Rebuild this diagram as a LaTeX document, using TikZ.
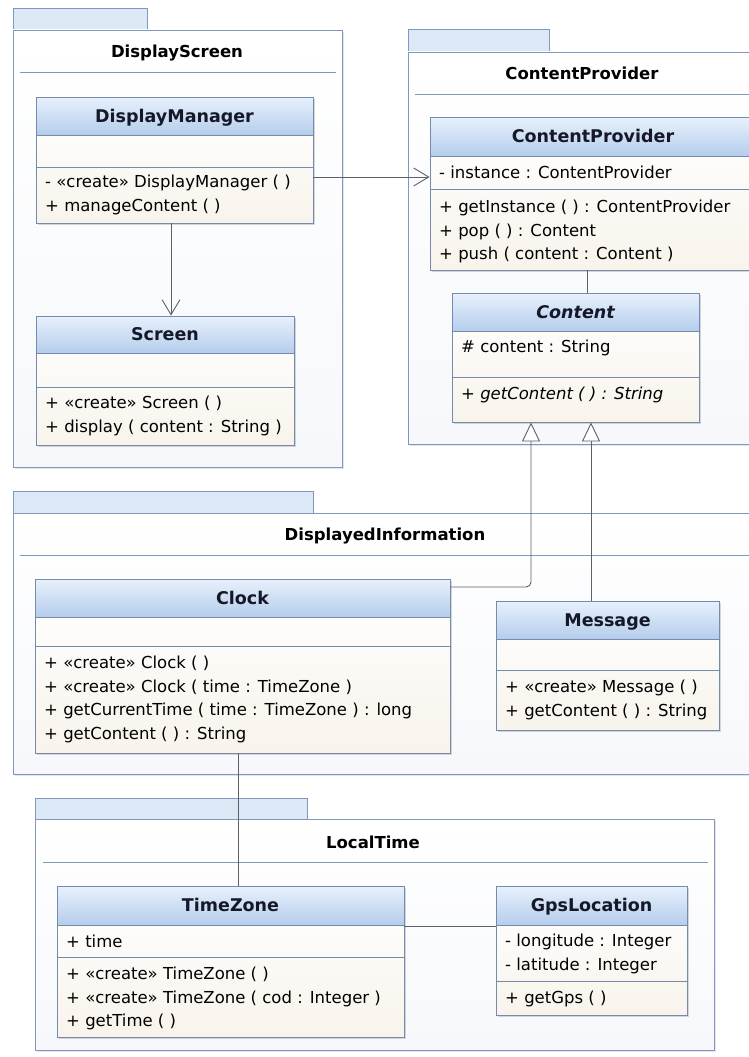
\documentclass[tikz,border=0pt]{standalone}
\usepackage{fontspec}
\setmainfont{DejaVu Sans}
\usepackage{tikz}
\usetikzlibrary{arrows.meta, fit, shadows}

\definecolor{pkgline}{RGB}{126,153,190}
\definecolor{clsline}{RGB}{118,138,172}
\definecolor{tabblue}{RGB}{221,232,246}
\definecolor{headtop}{RGB}{232,241,252}
\definecolor{headbottom}{RGB}{180,205,236}
\definecolor{clsbottom}{RGB}{248,244,236}
\definecolor{pkgbottom}{RGB}{246,248,251}
\definecolor{conn}{RGB}{95,95,105}
\definecolor{titletext}{RGB}{20,24,40}

% class box: name, left, top, right, bottom, header bottom, title
\newcommand{\umlclass}[7]{%
  \node[classbody, fit={(#2,#3) (#4,#5)}] (#1) {};
  \draw[classhead] (#2,#3) rectangle (#4,#6);
  \node[classtitle] (#1-title) at ({(#2+#4)/2},{(#3+#6)/2+6}) {#7};
}

\begin{document}
\begin{tikzpicture}[
    x=1pt, y=-1pt,
    pkgbody/.style={draw=pkgline, line width=0.9pt, top color=white, bottom color=pkgbottom,
      inner sep=0, drop shadow={shadow xshift=2pt, shadow yshift=-2pt, opacity=.2}},
    pkgtab/.style={draw=pkgline, line width=0.9pt, fill=tabblue},
    pkgtitle/.style={font=\bfseries\fontsize{16.5}{20}\selectfont, anchor=base, inner sep=0},
    pkgsep/.style={draw=pkgline, line width=0.9pt},
    classbody/.style={draw=clsline, line width=0.9pt, top color=white, bottom color=clsbottom,
      inner sep=0, drop shadow={shadow xshift=2pt, shadow yshift=-2pt, opacity=.3}},
    classhead/.style={draw=clsline, line width=0.9pt, top color=headtop, bottom color=headbottom},
    classtitle/.style={font=\bfseries\fontsize{17.5}{20}\selectfont, anchor=base, inner sep=0, text=titletext},
    clssep/.style={draw=clsline, line width=0.9pt},
    member/.style={anchor=north west, inner sep=0, align=left, font=\fontsize{16.5}{23.5}\selectfont},
    assoc/.style={draw=conn, line width=0.9pt},
    navig/.style={assoc, -{Straight Barb[length=15pt, width=18pt]}},
    gen/.style={assoc, -{Triangle[length=19pt, width=18pt, fill=white]}}
  ]
  \clip (0,0) rectangle (749,1057);
  \fill[white] (0,0) rectangle (749,1057);

  % packages
  \draw[pkgtab] (13,8) rectangle (147,30);
  \node[pkgbody, fit={(13,30) (342,467)}] (screenpkg) {};
  \node[pkgtitle] (screenpkg-title) at (177,58) {DisplayScreen};
  \draw[pkgsep] (20,72) -- (336,72);

  \draw[pkgtab] (408,29) rectangle (549,52);
  \node[pkgbody, fit={(408,52) (765,444)}] (providerpkg) {};
  \node[pkgtitle] (providerpkg-title) at (582,80) {ContentProvider};
  \draw[pkgsep] (415,94) -- (765,94);

  \draw[pkgtab] (13,491) rectangle (313,513);
  \node[pkgbody, fit={(13,513) (765,774)}] (infopkg) {};
  \node[pkgtitle] (infopkg-title) at (385,540) {DisplayedInformation};
  \draw[pkgsep] (20,555) -- (765,555);

  \draw[pkgtab] (35,798) rectangle (307,819);
  \node[pkgbody, fit={(35,819) (714,1050)}] (timepkg) {};
  \node[pkgtitle] (timepkg-title) at (373,848) {LocalTime};
  \draw[pkgsep] (43,862) -- (708,862);

  % classes
  \umlclass{dm}{36}{97}{313}{223}{135}{DisplayManager}
  \draw[clssep] (36,167) -- (313,167);
  \node[member] (dm-ops) at (45,171.3) {\strut- «create» DisplayManager ( )\\+ manageContent ( )};

  \umlclass{scr}{36}{316}{294}{445}{353}{Screen}
  \draw[clssep] (36,387) -- (294,387);
  \node[member] (scr-ops) at (45,392.3) {\strut+ «create» Screen ( )\\+ display ( content : String )};

  \umlclass{cp}{430}{117}{756}{270}{156}{ContentProvider}
  \node[member] (cp-attr) at (439,162.3) {\strut- instance : ContentProvider};
  \draw[clssep] (430,189) -- (756,189);
  \node[member] (cp-ops) at (439,196.3) {\strut+ getInstance ( ) : ContentProvider\\+ pop ( ) : Content\\+ push ( content : Content )};

  \umlclass{ct}{452}{293}{699}{422}{331}{\itshape Content}
  \node[member] (ct-attr) at (461,336.3) {\strut\# content : String};
  \draw[clssep] (452,377) -- (699,377);
  \node[member, font=\itshape\fontsize{16.5}{23.5}\selectfont] (ct-ops) at (461,383.3) {\strut+ getContent ( ) : String};

  \umlclass{clk}{35}{579}{450}{753}{617}{Clock}
  \draw[clssep] (35,646) -- (450,646);
  \node[member] (clk-ops) at (44,652.3) {\strut+ «create» Clock ( )\\+ «create» Clock ( time : TimeZone )\\+ getCurrentTime ( time : TimeZone ) : long\\+ getContent ( ) : String};

  \umlclass{msg}{496}{601}{719}{730}{639}{Message}
  \draw[clssep] (496,670) -- (719,670);
  \node[member] (msg-ops) at (505,676.3) {\strut+ «create» Message ( )\\+ getContent ( ) : String};

  \umlclass{tz}{57}{886}{404}{1037}{925}{TimeZone}
  \node[member] (tz-attr) at (66,931.3) {\strut+ time};
  \draw[clssep] (57,957) -- (404,957);
  \node[member] (tz-ops) at (66,963.3) {\strut+ «create» TimeZone ( )\\+ «create» TimeZone ( cod : Integer )\\+ getTime ( )};

  \umlclass{gps}{496}{886}{687}{1015}{925}{GpsLocation}
  \node[member] (gps-attr) at (505,930.3) {\strut- longitude : Integer\\- latitude : Integer};
  \draw[clssep] (496,981) -- (687,981);
  \node[member] (gps-ops) at (505,987.3) {\strut+ getGps ( )};

  % connectors
  \draw[navig] (dm.east |- 0,177) -- (cp.west |- 0,177);
  \draw[navig] (dm.south -| 171,0) -- (scr.north -| 171,0);
  \draw[assoc] (cp.south -| 587,0) -- (ct.north -| 587,0);
  \draw[gen, rounded corners=5pt] (clk.east |- 0,587) -| (ct.south -| 531,0);
  \draw[gen] (msg.north -| 591,0) -- (ct.south -| 591,0);
  \draw[assoc] (clk.south -| 238,0) -- (tz.north -| 238,0);
  \draw[assoc] (tz.east |- 0,926) -- (gps.west |- 0,926);
\end{tikzpicture}
\end{document}
